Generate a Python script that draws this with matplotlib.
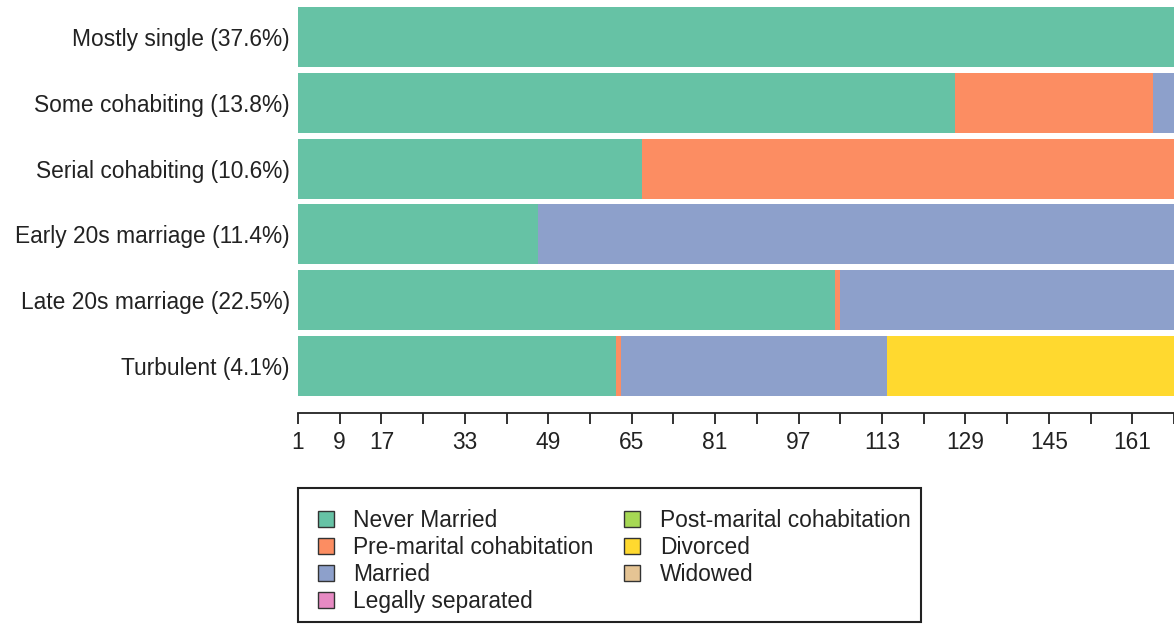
import matplotlib
matplotlib.use("Agg")
import matplotlib.pyplot as plt
from matplotlib.patches import Patch, Rectangle

plt.rcParams["font.family"] = ["Liberation Sans", "DejaVu Sans"]

# Cluster names (top to bottom) and modal state spells in months
clusters = [
    "Mostly single (37.6%)",
    "Some cohabiting (13.8%)",
    "Serial cohabiting (10.6%)",
    "Early 20s marriage (11.4%)",
    "Late 20s marriage (22.5%)",
    "Turbulent (4.1%)",
]
states = [
    "Never Married",
    "Pre-marital cohabitation",
    "Married",
    "Legally separated",
    "Post-marital cohabitation",
    "Divorced",
    "Widowed",
]
state_colors = ["#66C2A5", "#FC8D62", "#8DA0CB", "#E78AC3",
                "#A6D854", "#FFD92F", "#E5C494"]

# (state index, number of months) for each cluster's modal sequence
spells = [
    [(0, 168)],
    [(0, 126), (1, 38), (2, 4)],
    [(0, 66), (1, 102)],
    [(0, 46), (2, 122)],
    [(0, 103), (1, 1), (2, 64)],
    [(0, 61), (1, 1), (2, 51), (5, 55)],
]
first_month = 1
n_months = 168
tick_step = 8
shown_labels = [1, 9, 17, 33, 49, 65, 81, 97, 113, 129, 145, 161]

W, H = 1174, 624
fs = 16.4
fig = plt.figure(figsize=(W / 100, H / 100), dpi=100)
ax = fig.add_axes([298 / W, 1 - 396 / H, 1 - 298 / W, (396 - 7) / H])

bar_h = 0.912
for row, seq in enumerate(spells):
    y = len(spells) - 1 - row
    start = first_month
    for state, length in seq:
        ax.barh(y, length, left=start, height=bar_h,
                color=state_colors[state], linewidth=0)
        start += length

ax.set_xlim(first_month, first_month + n_months)
ax.set_ylim(-bar_h / 2, len(spells) - 1 + bar_h / 2)

ax.set_yticks(range(len(spells)))
ax.set_yticklabels(clusters[::-1])
ax.tick_params(axis="y", length=0, pad=6, labelsize=fs, labelcolor="#222222")

ticks = list(range(first_month, first_month + n_months + 1, tick_step))
ax.set_xticks(ticks)
ax.set_xticklabels([str(t) if t in shown_labels else "" for t in ticks])
ax.tick_params(axis="x", length=8, width=1.3, pad=5, direction="out",
               labelsize=fs, labelcolor="#222222", color="#222222")

for side in ("left", "right", "top"):
    ax.spines[side].set_visible(False)
ax.spines["bottom"].set_position(("outward", 12.5))
ax.spines["bottom"].set_linewidth(1.3)
ax.spines["bottom"].set_color("#222222")

# legend entries without a frame; the box is drawn separately so the
# padding above the entries can be larger than below
handles = [Patch(facecolor=c, edgecolor="#333333", linewidth=1.0)
           for c in state_colors]
leg = fig.legend(handles, states, loc="upper left",
                 bbox_to_anchor=(318 / W, 1 - 509 / H), ncol=2,
                 fontsize=fs, frameon=False,
                 handlelength=0.7, handleheight=0.7, handletextpad=0.85,
                 labelspacing=0.17, columnspacing=1.35, borderpad=0,
                 borderaxespad=0)
for t in leg.get_texts():
    t.set_color("#222222")

fig.add_artist(Rectangle((298 / W, 1 - 622 / H), (921 - 298) / W,
                         (622 - 488) / H, transform=fig.transFigure,
                         fill=False, edgecolor="#222222", linewidth=1.5))

fig.savefig("out.png", dpi=100)
